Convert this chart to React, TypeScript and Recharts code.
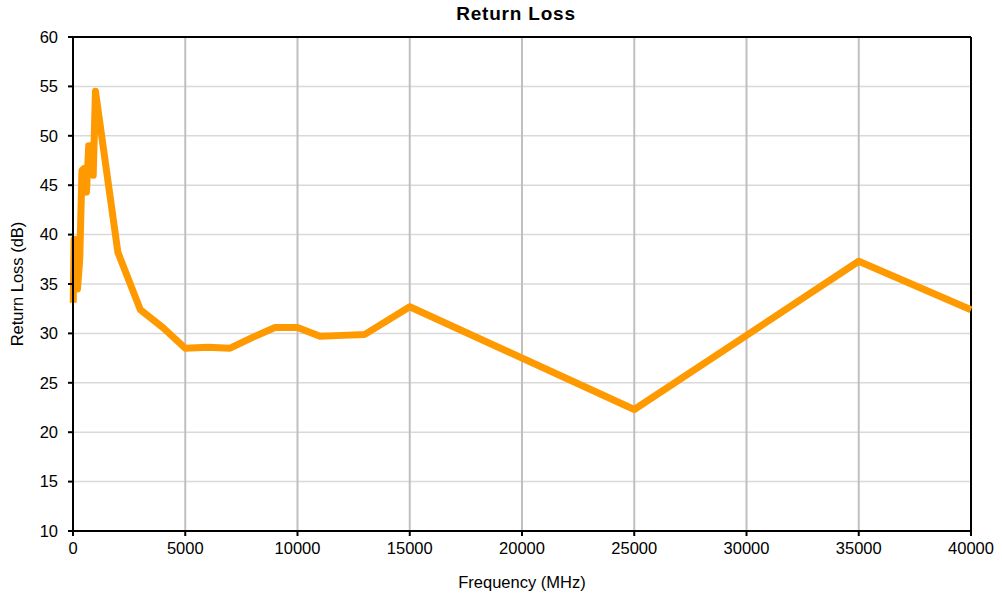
import { LineChart, Line, XAxis, YAxis, CartesianGrid, ReferenceLine } from "recharts"

const freqs = [10, 50, 150, 200, 300, 400, 500, 600, 700, 800, 900, 1000, 2000, 3000, 4000, 5000, 6000, 7000, 8000, 9000, 10000, 11000, 12000, 13000, 15000, 25000, 35000, 40000]
const returnLoss = [33.1, 39.5, 39.5, 34.5, 37.5, 46.5, 46.7, 44.3, 49.0, 49.0, 46.0, 54.5, 38.2, 32.4, 30.6, 28.5, 28.6, 28.5, 29.6, 30.6, 30.6, 29.7, 29.8, 29.9, 32.7, 22.3, 37.3, 32.4]
const xTicks = [0, 5000, 10000, 15000, 20000, 25000, 30000, 35000, 40000]
const yTicks = [10, 15, 20, 25, 30, 35, 40, 45, 50, 55, 60]

const data = freqs.map((f, i) => ({ f, rl: returnLoss[i] }))

const font = "'Liberation Sans', Arial, sans-serif"
const tick = { fontSize: 16.5, fill: "#000", fontFamily: font }

export default function App() {
  return (
    <div style={{ position: "relative", width: 1002, height: 599, fontFamily: font, background: "#fff" }}>
      <style>{"body{margin:0}"}</style>
      <div
        style={{
          position: "absolute",
          top: 3,
          left: 0,
          width: 1032,
          textAlign: "center",
          fontWeight: "bold",
          fontSize: 19,
          letterSpacing: 0.8,
        }}
      >
        Return Loss
      </div>
      <LineChart width={1002} height={599} data={data} margin={{ top: 37, right: 31, left: 0, bottom: 8 }}>
        <CartesianGrid horizontal vertical={false} stroke="#d9d9d9" strokeWidth={1.5} />
        <CartesianGrid horizontal={false} vertical stroke="#c0c0c0" strokeWidth={2} />
        <XAxis
          dataKey="f"
          type="number"
          domain={[0, 40000]}
          ticks={xTicks}
          tick={tick}
          tickSize={5}
          tickMargin={6}
          height={60}
          stroke="#000"
          strokeWidth={2}
          tickLine={{ stroke: "#000", strokeWidth: 2 }}
          interval={0}
          label={{ value: "Frequency (MHz)", position: "insideBottom", offset: 3, fontSize: 16.5, fill: "#000", fontFamily: font }}
        />
        <YAxis
          type="number"
          domain={[10, 60]}
          ticks={yTicks}
          tick={tick}
          tickSize={5}
          tickMargin={10}
          width={73}
          stroke="#000"
          strokeWidth={2}
          tickLine={{ stroke: "#000", strokeWidth: 2 }}
          interval={0}
          label={{ value: "Return Loss (dB)", angle: -90, position: "insideLeft", offset: 0, dx: 17, style: { textAnchor: "middle" }, fontSize: 16.5, fill: "#000", fontFamily: font }}
        />
        <ReferenceLine y={60} stroke="#000" strokeWidth={2} />
        <ReferenceLine x={40000} stroke="#000" strokeWidth={2} />
        <Line
          dataKey="rl"
          stroke="#ff9900"
          strokeWidth={7}
          dot={false}
          strokeLinejoin="round"
          isAnimationActive={false}
        />
      </LineChart>
    </div>
  )
}
